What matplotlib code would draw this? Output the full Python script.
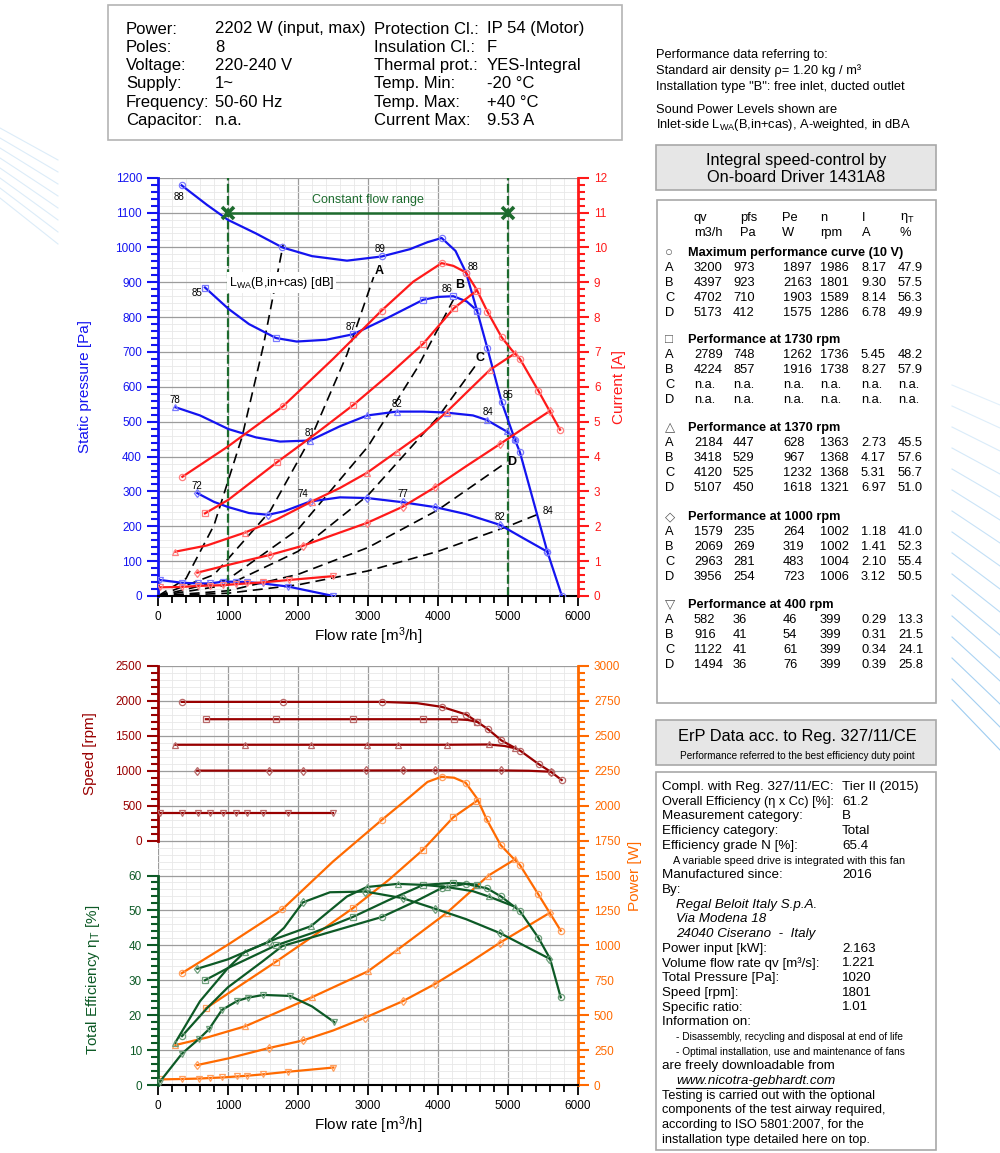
import matplotlib.pyplot as plt
from matplotlib.patches import Rectangle
from matplotlib.lines import Line2D
from matplotlib.ticker import MultipleLocator

plt.rcParams['font.family'] = ['Liberation Sans', 'DejaVu Sans']
plt.rcParams['mathtext.fontset'] = 'custom'
plt.rcParams['mathtext.rm'] = 'Liberation Sans'
plt.rcParams['mathtext.it'] = 'Liberation Sans:italic'

# colours
BLUE, BLUE_MK = '#1414f0', '#7a7aff'
RED, RED_MK = '#ff1a1a', '#ff8080'
CFR = '#1d6b2e'
DRED, DRED_MK = '#990000', '#b86a6a'
ORANGE, ORANGE_MK = '#ff6a00', '#ffa060'
GREEN, GREEN_MK = '#0d5a26', '#6f9f7c'

# ---------------- top chart: static pressure [Pa] ----------------
pmax_x = [338, 700, 1000, 1400, 1776, 2200, 2700, 3195, 3600, 3850, 4052, 4250, 4400, 4557, 4705, 4910, 5100, 5171, 5562, 5770]
pmax_y = [1178, 1122, 1079, 1040, 1000, 975, 962, 974, 995, 1015, 1027, 990, 928, 819, 711, 556, 448, 412, 127, 0]
pmax_mk = [0, 4, 7, 10, 12, 13, 14, 15, 16, 17, 18, 19]

p1730_x = [671, 1005, 1300, 1686, 1981, 2400, 2790, 3300, 3790, 4000, 4219, 4410, 4557]
p1730_y = [885, 824, 780, 740, 730, 735, 751, 800, 850, 858, 860, 845, 819]
p1730_mk = [0, 3, 6, 8, 10, 12]

p1370_x = [243, 600, 1005, 1400, 1743, 2171, 2600, 2990, 3410, 3800, 4124, 4500, 4695, 4981, 5107]
p1370_y = [542, 518, 479, 455, 443, 446, 487, 518, 529, 529, 526, 518, 505, 472, 450]
p1370_mk = [0, 5, 7, 8, 10, 12, 13, 14]

p1000_x = [562, 800, 1005, 1300, 1576, 1800, 2171, 2600, 2990, 3495, 3957, 4400, 4886, 5200, 5562]
p1000_y = [295, 270, 255, 238, 233, 243, 271, 283, 281, 269, 255, 235, 204, 168, 127]
p1000_mk = [0, 4, 6, 8, 9, 10, 12, 14]

p400_x = [29, 338, 576, 743, 924, 1114, 1267, 1495, 1862, 2505]
p400_y = [46, 38, 36, 36, 41, 41, 40, 36, 27, 0]

# current [A]
imax_x = [348, 1000, 1790, 2500, 3195, 3648, 4052, 4220, 4400, 4552, 4705, 4910, 5052, 5171, 5433, 5743]
imax_y = [3.42, 4.29, 5.45, 6.80, 8.19, 9.02, 9.55, 9.47, 9.28, 8.79, 8.16, 7.42, 7.06, 6.80, 5.89, 4.77]
imax_mk = [0, 2, 4, 6, 8, 10, 11, 13, 14, 15]

i1730_x = [671, 1005, 1695, 2250, 2790, 3300, 3790, 4229, 4552]
i1730_y = [2.37, 2.76, 3.83, 4.65, 5.48, 6.35, 7.24, 8.26, 8.76]
i1730_mk = [0, 2, 4, 6, 7, 8]

i1370_x = [243, 700, 1243, 1700, 2195, 2600, 2990, 3410, 3800, 4124, 4450, 4743, 5107]
i1370_y = [1.27, 1.45, 1.82, 2.20, 2.71, 3.10, 3.54, 4.14, 4.70, 5.28, 5.92, 6.49, 6.97]
i1370_mk = [0, 2, 4, 6, 7, 9, 11, 12]

i1000_x = [562, 1000, 1600, 2067, 2500, 2990, 3495, 3957, 4400, 4886, 5250, 5600]
i1000_y = [0.67, 0.89, 1.18, 1.44, 1.75, 2.10, 2.56, 3.12, 3.72, 4.36, 4.85, 5.31]
i1000_mk = [0, 2, 3, 5, 6, 7, 9, 11]

i400_x = [29, 338, 576, 743, 924, 1114, 1267, 1495, 1876, 2505]
i400_y = [0.25, 0.26, 0.29, 0.30, 0.31, 0.34, 0.36, 0.39, 0.46, 0.57]

# system curves (dashed)
sys1_x = [0, 400, 800, 1200, 1500, 1790]
sys1_y = [0, 50, 203, 456, 713, 1010]
sysA_x = [0, 800, 1600, 2200, 2700, 3080]
sysA_y = [0, 61, 243, 460, 693, 915]
sysB_x = [0, 1000, 2000, 3000, 3700, 4220]
sysB_y = [0, 48, 191, 429, 653, 850]
sysC_x = [0, 1000, 2000, 3000, 4000, 4550]
sysC_y = [0, 32, 128, 289, 513, 665]
sysD_x = [0, 1000, 2000, 3000, 4000, 4980]
sysD_y = [0, 15, 62, 139, 247, 384]
sysE_x = [0, 1000, 2000, 3000, 4000, 5000, 5410]
sysE_y = [0, 8, 32, 72, 128, 200, 233]

# sound power labels [dB] and positions
lwa_txt = ['88', '85', '78', '72', '89', '87', '81', '74', '88', '86', '82', '77', '84', '85', '82', '84']
lwa_x = [300, 553, 243, 562, 3171, 2752, 2171, 2067, 4505, 4133, 3410, 3495, 4719, 5005, 4886, 5576]
lwa_y = [1146, 869, 563, 316, 995, 773, 469, 293, 945, 881, 551, 292, 529, 577, 228, 245]

pt_letters = ['A', 'B', 'C', 'D']
pt_letter_x = [3162, 4314, 4600, 5052]
pt_letter_y = [931, 893, 684, 383]

cfr_q = [1000, 5000]
cfr_p = 1100

# ---------------- bottom chart ----------------
n_max_x = [339, 1783, 3206, 3700, 4059, 4403, 4560, 4713, 4906, 5176, 5437, 5610, 5767]
n_max_y = [1986, 1986, 1986, 1968, 1914, 1805, 1700, 1596, 1434, 1286, 1096, 986, 867]
n_max_mk = [0, 1, 2, 4, 5, 6, 7, 8, 9, 10, 11, 12]

n1730_x = [684, 1684, 2791, 3787, 4230, 4420, 4560]
n1730_y = [1738, 1738, 1738, 1738, 1738, 1728, 1700]
n1730_mk = [0, 1, 2, 3, 4, 6]

n1370_x = [240, 1240, 2186, 2984, 3423, 4123, 4723, 4950, 5107]
n1370_y = [1372, 1372, 1372, 1372, 1372, 1372, 1376, 1355, 1321]
n1370_mk = [0, 1, 2, 3, 4, 5, 6, 8]

n1000_x = [560, 1586, 2077, 2974, 3497, 3960, 4896, 5300, 5610]
n1000_y = [1002, 1002, 1002, 1004, 1005, 1006, 1005, 1000, 986]
n1000_mk = [0, 1, 2, 3, 4, 5, 6, 8]

n400_x = [29, 338, 576, 743, 924, 1114, 1267, 1495, 1862, 2505]
n400_y = [399, 399, 399, 399, 399, 399, 399, 399, 399, 399]

pw_max_x = [338, 1000, 1776, 2500, 3195, 3600, 3850, 4052, 4230, 4395, 4560, 4695, 4895, 5052, 5171, 5433, 5753]
pw_max_y = [800, 1005, 1258, 1600, 1897, 2064, 2170, 2207, 2200, 2164, 2050, 1902, 1718, 1635, 1575, 1365, 1105]
pw_max_mk = [0, 2, 4, 7, 9, 11, 12, 14, 15, 16]

pw1730_x = [680, 1686, 2200, 2781, 3300, 3781, 4219, 4552]
pw1730_y = [548, 883, 1060, 1265, 1470, 1682, 1917, 2033]
pw1730_mk = [0, 1, 3, 5, 6, 7]

pw1370_x = [246, 700, 1249, 2197, 2999, 3418, 4124, 4719, 5107]
pw1370_y = [286, 340, 421, 628, 814, 967, 1232, 1499, 1618]
pw1370_mk = [0, 2, 3, 4, 5, 6, 7, 8]

pw1000_x = [562, 1000, 1579, 2069, 2500, 2963, 3497, 3956, 4400, 4886, 5600]
pw1000_y = [143, 190, 264, 319, 390, 483, 600, 723, 860, 1019, 1234]
pw1000_mk = [0, 2, 3, 5, 6, 7, 9, 10]

pw400_x = [29, 338, 582, 743, 916, 1122, 1267, 1494, 1862, 2505]
pw400_y = [40, 43, 46, 50, 54, 61, 66, 76, 95, 125]

eff_max_x = [343, 700, 1000, 1500, 1776, 2457, 3195, 3700, 4052, 4395, 4702, 4900, 5171, 5433, 5600, 5753]
eff_max_y = [14, 22, 28, 35.5, 39.8, 43.8, 48.1, 52.8, 56.4, 57.6, 56.3, 54, 49.8, 42.2, 36.2, 25.1]
eff_max_mk = [0, 4, 6, 8, 9, 10, 11, 12, 13, 15]

eff1730_x = [671, 1000, 1686, 2200, 2457, 2781, 3300, 3790, 4219, 4552]
eff1730_y = [30, 33.5, 40, 43.5, 45.5, 48.1, 53, 57.3, 57.9, 57.4]
eff1730_mk = [0, 2, 5, 7, 8, 9]

eff1370_x = [246, 600, 1000, 1240, 1700, 2186, 2457, 2700, 2984, 3423, 3800, 4123, 4500, 4723, 5107]
eff1370_y = [12.1, 24, 33.5, 38.1, 42, 45.5, 50, 54, 56.7, 57.6, 57.3, 56.7, 55.5, 54.0, 51.0]
eff1370_mk = [0, 3, 5, 8, 9, 11, 13, 14]

eff1000_x = [562, 1000, 1579, 1800, 2069, 2457, 2963, 3497, 3956, 4400, 4886, 5590]
eff1000_y = [33.3, 36, 41, 45, 52.3, 55.2, 55.4, 53.5, 50.5, 47.5, 43.5, 36.2]
eff1000_mk = [0, 2, 4, 6, 7, 8, 10, 11]

eff400_x = [29, 343, 591, 729, 913, 1134, 1283, 1506, 1886, 2200, 2519]
eff400_y = [1, 9, 13.3, 16, 21.5, 24.1, 25, 25.8, 25.5, 22.5, 18]
eff400_mk = [0, 1, 2, 3, 4, 5, 6, 7, 8, 10]

# ---------------- text panels ----------------
info_lab1 = ['Power:', 'Poles:', 'Voltage:', 'Supply:', 'Frequency:', 'Capacitor:']
info_val1 = ['2202 W (input, max)', '8', '220-240 V', '1~', '50-60 Hz', 'n.a.']
info_lab2 = ['Protection Cl.:', 'Insulation Cl.:', 'Thermal prot.:', 'Temp. Min:', 'Temp. Max:', 'Current Max:']
info_val2 = ['IP 54 (Motor)', 'F', 'YES-Integral', '-20 °C', '+40 °C', '9.53 A']

sections = ['Maximum performance curve (10 V)', 'Performance at 1730 rpm', 'Performance at 1370 rpm',
            'Performance at 1000 rpm', 'Performance at 400 rpm']
section_sym = ['○', '□', '△', '◇', '▽']
tab_rows = [
    [['3200', '973', '1897', '1986', '8.17', '47.9'],
     ['4397', '923', '2163', '1801', '9.30', '57.5'],
     ['4702', '710', '1903', '1589', '8.14', '56.3'],
     ['5173', '412', '1575', '1286', '6.78', '49.9']],
    [['2789', '748', '1262', '1736', '5.45', '48.2'],
     ['4224', '857', '1916', '1738', '8.27', '57.9'],
     ['n.a.'] * 6, ['n.a.'] * 6],
    [['2184', '447', '628', '1363', '2.73', '45.5'],
     ['3418', '529', '967', '1368', '4.17', '57.6'],
     ['4120', '525', '1232', '1368', '5.31', '56.7'],
     ['5107', '450', '1618', '1321', '6.97', '51.0']],
    [['1579', '235', '264', '1002', '1.18', '41.0'],
     ['2069', '269', '319', '1002', '1.41', '52.3'],
     ['2963', '281', '483', '1004', '2.10', '55.4'],
     ['3956', '254', '723', '1006', '3.12', '50.5']],
    [['582', '36', '46', '399', '0.29', '13.3'],
     ['916', '41', '54', '399', '0.31', '21.5'],
     ['1122', '41', '61', '399', '0.34', '24.1'],
     ['1494', '36', '76', '399', '0.39', '25.8']],
]

erp_lines = [
    ('Compl. with Reg. 327/11/EC:', 'Tier II (2015)', 'n'),
    ('Overall Efficiency (η x Cc) [%]:', '61.2', 'n'),
    ('Measurement category:', 'B', 'n'),
    ('Efficiency category:', 'Total', 'n'),
    ('Efficiency grade N [%]:', '65.4', 'n'),
    ('A variable speed drive is integrated with this fan', '', 's'),
    ('Manufactured since:', '2016', 'n'),
    ('By:', '', 'n'),
    ('Regal Beloit Italy S.p.A.', '', 'i'),
    ('Via Modena 18', '', 'i'),
    ('24040 Ciserano  -  Italy', '', 'i'),
    ('Power input [kW]:', '2.163', 'n'),
    ('Volume flow rate qv [m³/s]:', '1.221', 'n'),
    ('Total Pressure [Pa]:', '1020', 'n'),
    ('Speed [rpm]:', '1801', 'n'),
    ('Specific ratio:', '1.01', 'n'),
    ('Information on:', '', 'n'),
    ('- Disassembly, recycling and disposal at end of life', '', 'd'),
    ('- Optimal installation, use and maintenance of fans', '', 'd'),
    ('are freely downloadable from', '', 'n'),
    ('www.nicotra-gebhardt.com', '', 'u'),
    ('Testing is carried out with the optional', '', 'n'),
    ('components of the test airway required,', '', 'n'),
    ('according to ISO 5801:2007, for the', '', 'n'),
    ('installation type detailed here on top.', '', 'n'),
]


def fx(px):
    return px / 1000


def fy(py):
    return 1 - py / 1153


def ftext(x, y, s, **kw):
    kw.setdefault('va', 'center')
    fig.text(fx(x), fy(y), s, **kw)


def fbox(x0, y0, x1, y1, fc='white', ec='#a8a8a8'):
    fig.add_artist(Rectangle((fx(x0), fy(y1)), fx(x1) - fx(x0), fy(y0) - fy(y1),
                             transform=fig.transFigure, facecolor=fc, edgecolor=ec, lw=1.2))


def curve(ax, x, y, c, mc, marker, mk=None, ms=4.5):
    ax.plot(x, y, color=c, lw=1.6, marker=marker, ms=ms, mfc='none', mec=mc, mew=0.9,
            markevery=mk, zorder=3)


def grid(ax, xmaj, xmin, ymaj, ymin):
    ax.xaxis.set_major_locator(MultipleLocator(xmaj))
    ax.xaxis.set_minor_locator(MultipleLocator(xmin))
    ax.yaxis.set_major_locator(MultipleLocator(ymaj))
    ax.yaxis.set_minor_locator(MultipleLocator(ymin))
    ax.grid(which='major', color='#9c9c9c', lw=0.9)
    ax.grid(which='minor', color='#e8e8e8', lw=0.6)
    ax.set_axisbelow(True)


def yspine(ax, side, color, maj, minor):
    ax.spines[side].set_color(color)
    ax.spines[side].set_linewidth(2)
    ax.yaxis.set_major_locator(MultipleLocator(maj))
    ax.yaxis.set_minor_locator(MultipleLocator(minor))
    ax.tick_params(axis='y', which='both', colors=color, width=1.5, direction='out')
    ax.tick_params(axis='y', which='major', length=8, labelsize=8.5)
    ax.tick_params(axis='y', which='minor', length=5)


def xspine(ax):
    ax.spines['bottom'].set_linewidth(1.5)
    ax.tick_params(axis='x', which='both', width=1.3, direction='out', labelsize=8.5)
    ax.tick_params(axis='x', which='major', length=7)
    ax.tick_params(axis='x', which='minor', length=5)
    ax.set_xlabel('Flow rate [m$^3$/h]', fontsize=11, labelpad=2)


fig = plt.figure(figsize=(10, 11.53), dpi=100)

# decorative lines at the edges
for k in range(8):
    fig.add_artist(Line2D([fx(0), fx(58)], [fy(128 + 10 * k), fy(160 + 12 * k)],
                          transform=fig.transFigure, color='#b9d9f2', lw=0.8, alpha=0.5))
for k in range(16):
    fig.add_artist(Line2D([fx(952), fx(1000)], [fy(385 + 21 * k), fy(405 + 23 * k)],
                          transform=fig.transFigure, color='#8cc3ee', lw=0.8,
                          alpha=0.25 + 0.04 * k))

# ======== top chart ========
ax1 = fig.add_axes([fx(158), fy(596), 0.42, (596 - 177.7) / 1153])
ax1.set_xlim(0, 6000)
ax1.set_ylim(0, 1200)
grid(ax1, 1000, 200, 100, 20)
yspine(ax1, 'left', BLUE, 100, 20)
ax1.spines['top'].set_visible(False)
ax1.spines['right'].set_visible(False)
xspine(ax1)
ax1.set_ylabel('Static pressure [Pa]', color=BLUE, fontsize=11)
ax1.yaxis.set_label_coords(-0.157, 0.5)

for sx, sy in [(sys1_x, sys1_y), (sysA_x, sysA_y), (sysB_x, sysB_y),
               (sysC_x, sysC_y), (sysD_x, sysD_y), (sysE_x, sysE_y)]:
    ax1.plot(sx, sy, color='black', lw=1.2, dashes=(6, 3.5), zorder=2)

for q in cfr_q:
    ax1.plot([q, q], [0, 1200], color=CFR, lw=1.6, dashes=(4, 1.5), zorder=2.5)
ax1.plot(cfr_q, [cfr_p, cfr_p], color=CFR, lw=1.8, zorder=2.5)
ax1.plot(cfr_q, [cfr_p, cfr_p], ls='none', marker='x', ms=8, mew=2.6, color=CFR, zorder=4)
ax1.text(sum(cfr_q) / 2, 1135, 'Constant flow range', color=CFR, fontsize=9, ha='center', va='center')

curve(ax1, pmax_x, pmax_y, BLUE, BLUE_MK, 'o', pmax_mk)
curve(ax1, p1730_x, p1730_y, BLUE, BLUE_MK, 's', p1730_mk)
curve(ax1, p1370_x, p1370_y, BLUE, BLUE_MK, '^', p1370_mk)
curve(ax1, p1000_x, p1000_y, BLUE, BLUE_MK, 'd', p1000_mk)
curve(ax1, p400_x, p400_y, BLUE, BLUE_MK, 'v')

ax1.text(1010, 899, 'L$_{\\mathrm{WA}}$(B,in+cas) [dB]', fontsize=9, ha='left', va='center',
         bbox=dict(facecolor='white', edgecolor='none', pad=1.5), zorder=5)
for t, x, y in zip(lwa_txt, lwa_x, lwa_y):
    ax1.text(x, y, t, fontsize=7, ha='center', va='center', zorder=5)
for t, x, y in zip(pt_letters, pt_letter_x, pt_letter_y):
    ax1.text(x, y, t, fontsize=9, fontweight='bold', ha='center', va='center', zorder=5)

ax1b = ax1.twinx()
ax1b.set_ylim(0, 12)
for s in ['left', 'top', 'bottom']:
    ax1b.spines[s].set_visible(False)
yspine(ax1b, 'right', RED, 1, 0.2)
ax1b.set_ylabel('Current [A]', color=RED, fontsize=11)
ax1b.yaxis.set_label_coords(1.081, 0.5)
curve(ax1b, imax_x, imax_y, RED, RED_MK, 'o', imax_mk)
curve(ax1b, i1730_x, i1730_y, RED, RED_MK, 's', i1730_mk)
curve(ax1b, i1370_x, i1370_y, RED, RED_MK, '^', i1370_mk)
curve(ax1b, i1000_x, i1000_y, RED, RED_MK, 'd', i1000_mk)
curve(ax1b, i400_x, i400_y, RED, RED_MK, 'v')

# ======== bottom chart ========
bh = 419 / 1153
axb = fig.add_axes([fx(158), fy(1085), 0.42, bh])
axb.set_xlim(0, 6000)
axb.set_ylim(0, 3000)
grid(axb, 1000, 200, 250, 50)
axb.yaxis.tick_right()
axb.yaxis.set_label_position('right')
axb.yaxis.set_ticks_position('right')
yspine(axb, 'right', ORANGE, 250, 50)
axb.spines['left'].set_visible(False)
axb.spines['top'].set_visible(False)
xspine(axb)
axb.set_ylabel('Power [W]', color=ORANGE, fontsize=11)
axb.yaxis.set_label_coords(1.118, 0.5)

ax_n = fig.add_axes([fx(158), fy(1085) + bh * 7 / 12, 0.42, bh * 5 / 12])
ax_e = fig.add_axes([fx(158), fy(1085), 0.42, bh * 6 / 12])
for a in (ax_n, ax_e):
    a.set_xlim(0, 6000)
    a.patch.set_visible(False)
    for s in ['top', 'right', 'bottom']:
        a.spines[s].set_visible(False)
    a.tick_params(axis='x', which='both', bottom=False, labelbottom=False)
ax_n.set_ylim(0, 2500)
ax_e.set_ylim(0, 60)
yspine(ax_n, 'left', DRED, 500, 100)
yspine(ax_e, 'left', GREEN, 10, 2)
ax_n.set_ylabel('Speed [rpm]', color=DRED, fontsize=11)
ax_n.yaxis.set_label_coords(-0.145, 0.5)
ax_e.set_ylabel('Total Efficiency η$_{\\mathrm{T}}$ [%]', color=GREEN, fontsize=11)
ax_e.yaxis.set_label_coords(-0.133, 0.5)

curve(ax_n, n_max_x, n_max_y, DRED, DRED_MK, 'o', n_max_mk)
curve(ax_n, n1730_x, n1730_y, DRED, DRED_MK, 's', n1730_mk)
curve(ax_n, n1370_x, n1370_y, DRED, DRED_MK, '^', n1370_mk)
curve(ax_n, n1000_x, n1000_y, DRED, DRED_MK, 'd', n1000_mk)
curve(ax_n, n400_x, n400_y, DRED, DRED_MK, 'v')

curve(axb, pw_max_x, pw_max_y, ORANGE, ORANGE_MK, 'o', pw_max_mk)
curve(axb, pw1730_x, pw1730_y, ORANGE, ORANGE_MK, 's', pw1730_mk)
curve(axb, pw1370_x, pw1370_y, ORANGE, ORANGE_MK, '^', pw1370_mk)
curve(axb, pw1000_x, pw1000_y, ORANGE, ORANGE_MK, 'd', pw1000_mk)
curve(axb, pw400_x, pw400_y, ORANGE, ORANGE_MK, 'v')

curve(ax_e, eff_max_x, eff_max_y, GREEN, GREEN_MK, 'o', eff_max_mk)
curve(ax_e, eff1730_x, eff1730_y, GREEN, GREEN_MK, 's', eff1730_mk)
curve(ax_e, eff1370_x, eff1370_y, GREEN, GREEN_MK, '^', eff1370_mk)
curve(ax_e, eff1000_x, eff1000_y, GREEN, GREEN_MK, 'd', eff1000_mk)
curve(ax_e, eff400_x, eff400_y, GREEN, GREEN_MK, 'v', eff400_mk)

# ======== info box ========
fbox(108, 5, 622, 140, ec='#b4b4b4')
for i in range(6):
    y = 29 + 18.3 * i
    ftext(126, y, info_lab1[i], fontsize=12)
    ftext(215, y, info_val1[i], fontsize=12)
    ftext(374, y, info_lab2[i], fontsize=12)
    ftext(487, y, info_val2[i], fontsize=12)

ftext(656, 55, 'Performance data referring to:', fontsize=9.3)
ftext(656, 71, 'Standard air density ρ= 1.20 kg / m³', fontsize=9.3)
ftext(656, 87, 'Installation type "B": free inlet, ducted outlet', fontsize=9.3)
ftext(656, 110, 'Sound Power Levels shown are', fontsize=9.3)
ftext(656, 125, 'Inlet-side L$_{\\mathrm{WA}}$(B,in+cas), A-weighted, in dBA', fontsize=9.3)

# ======== speed control table ========
fbox(656, 145, 936, 190, fc='#e6e6e6')
ftext(796, 160, 'Integral speed-control by', fontsize=11.8, ha='center')
ftext(796, 178, 'On-board Driver 1431A8', fontsize=11.8, ha='center')

fbox(657, 200, 936, 703)
col_x = [694, 733, 783, 820, 861, 898]
head_x = [694, 740, 782, 820, 862, 900]
for hx, h1, h2 in zip(head_x, ['qv', 'pfs', 'Pe', 'n', 'I', 'η$_{\\mathrm{T}}$'],
                      ['m3/h', 'Pa', 'W', 'rpm', 'A', '%']):
    ftext(hx, 218, h1, fontsize=9.3)
    ftext(hx, 233, h2, fontsize=9.3)
sec_y = [253, 340, 428, 517, 605]
for sy, title, sym, rows in zip(sec_y, sections, section_sym, tab_rows):
    ftext(665, sy, sym, fontsize=9.5, color='#555555')
    ftext(688, sy, title, fontsize=9.2, fontweight='bold')
    for r, (letter, vals) in enumerate(zip(pt_letters, rows)):
        ry = sy + 15 + 15 * r
        ftext(665, ry, letter, fontsize=9.3)
        for cx, v in zip(col_x, vals):
            ftext(cx, ry, v, fontsize=9.3)

# ======== ErP panel ========
fbox(656, 720, 936, 765, fc='#e6e6e6')
ftext(797, 736, 'ErP Data acc. to Reg. 327/11/CE', fontsize=11.8, ha='center')
ftext(797, 756, 'Performance referred to the best efficiency duty point', fontsize=7.2, ha='center')
fbox(656, 772, 936, 1150)
for i, (lab, val, kind) in enumerate(erp_lines):
    y = 787 + 14.7 * i
    if kind == 's':
        ftext(673, y, lab, fontsize=7.8)
    elif kind == 'd':
        ftext(676, y, lab, fontsize=7.3)
    elif kind == 'i':
        ftext(676, y, lab, fontsize=9.6, style='italic')
    elif kind == 'u':
        ftext(676, y, lab, fontsize=9.6, style='italic')
        fig.add_artist(Line2D([fx(676), fx(832)], [fy(y + 7), fy(y + 7)],
                              transform=fig.transFigure, color='black', lw=0.8))
    else:
        lab_fs = 9.2 if len(lab) > 30 else 9.6
        ftext(662, y, lab, fontsize=lab_fs)
        if val:
            ftext(842, y, val, fontsize=9.6)

fig.savefig('out.png', dpi=100)
